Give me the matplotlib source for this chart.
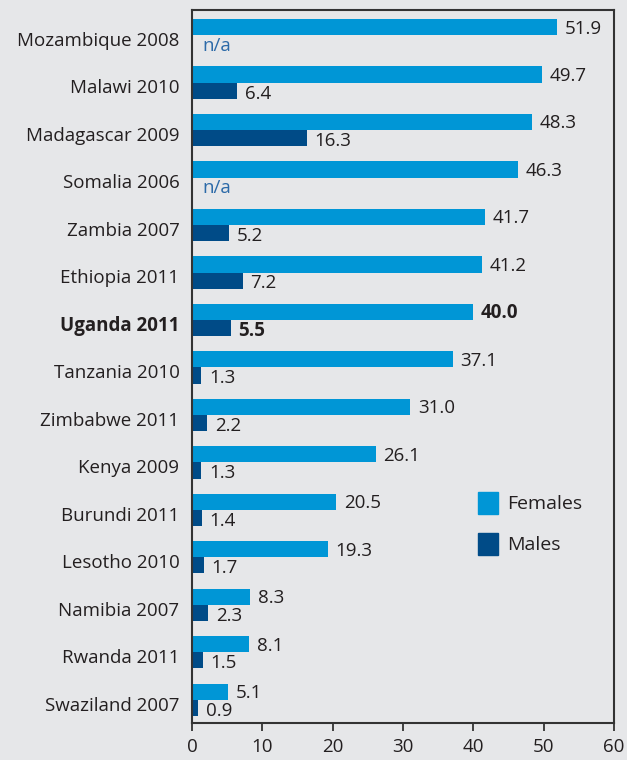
import numpy as np
import matplotlib.pyplot as plt
from matplotlib.patches import Patch

countries = ['Mozambique 2008', 'Malawi 2010', 'Madagascar 2009', 'Somalia 2006',
             'Zambia 2007', 'Ethiopia 2011', 'Uganda 2011', 'Tanzania 2010',
             'Zimbabwe 2011', 'Kenya 2009', 'Burundi 2011', 'Lesotho 2010',
             'Namibia 2007', 'Rwanda 2011', 'Swaziland 2007']
females = [51.9, 49.7, 48.3, 46.3, 41.7, 41.2, 40.0, 37.1, 31.0, 26.1, 20.5, 19.3, 8.3, 8.1, 5.1]
males = [None, 6.4, 16.3, None, 5.2, 7.2, 5.5, 1.3, 2.2, 1.3, 1.4, 1.7, 2.3, 1.5, 0.9]
highlight = 'Uganda 2011'

bg = '#e6e7e9'
c_fem = '#0096d6'
c_male = '#004b87'
txt = '#231f20'

plt.rcParams['font.family'] = ['Open Sans', 'DejaVu Sans']

fig = plt.figure(figsize=(6.27, 7.6), dpi=100, facecolor=bg)
ax = fig.add_axes([192 / 627, 37 / 760, 422 / 627, 713 / 760])
ax.set_facecolor(bg)

y = np.arange(len(countries))
h = 0.34
fy = y - h / 2
my = y + h / 2
m_vals = [0 if m is None else m for m in males]

ax.barh(fy, females, height=h, color=c_fem)
ax.barh(my, m_vals, height=h, color=c_male)

fs = 13.5
for i, (c, f, m) in enumerate(zip(countries, females, males)):
    w = 'bold' if c == highlight else 'normal'
    ax.text(f + 1.1, fy[i] + 0.03, f'{f:.1f}', va='center', ha='left',
            fontsize=fs, color=txt, fontweight=w)
    if m is None:
        ax.text(1.5, my[i] + 0.06, 'n/a', va='center', ha='left',
                fontsize=fs, color='#2c6aa8')
    else:
        ax.text(m + 1.1, my[i] + 0.06, f'{m:.1f}', va='center', ha='left',
                fontsize=fs, color=txt, fontweight=w)

ax.set_ylim(len(countries) - 0.51, -0.53)
ax.set_yticks(y + 0.08)
ax.set_yticklabels(countries, fontsize=fs, color=txt)
for lbl in ax.get_yticklabels():
    if lbl.get_text() == highlight:
        lbl.set_fontweight('bold')
ax.tick_params(axis='y', length=0, pad=9)

ax.set_xlim(0, 60)
ax.set_xticks(range(0, 61, 10))
ax.tick_params(axis='x', length=6, width=1.3, colors='#333333', labelcolor=txt,
               labelsize=fs, pad=5)

for s in ax.spines.values():
    s.set_color('#333333')
    s.set_linewidth(1.5)

handles = [Patch(color=c_fem, label='Females'), Patch(color=c_male, label='Males')]
ax.legend(handles=handles, loc='center left', bbox_to_anchor=(0.637, 0.28),
          frameon=False, fontsize=14, handlelength=1.0, handleheight=1.4,
          handletextpad=0.5, labelspacing=0.95, labelcolor=txt)

fig.savefig('out.png', dpi=100, facecolor=bg)
